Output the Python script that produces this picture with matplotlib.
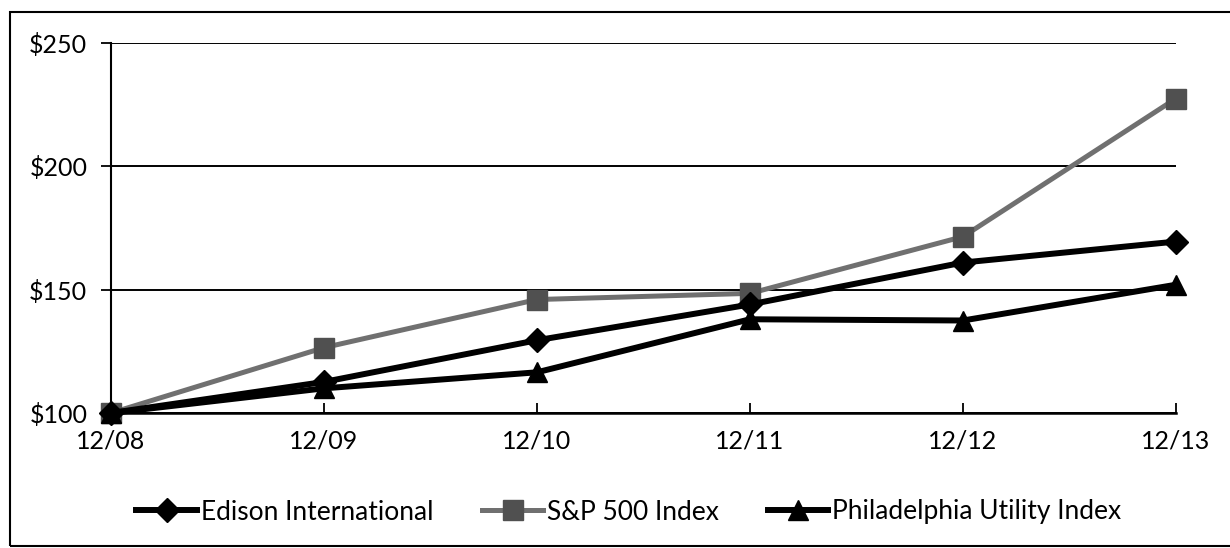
import matplotlib
matplotlib.use("Agg")
import matplotlib.pyplot as plt
from matplotlib.patches import Rectangle

years = ["12/08", "12/09", "12/10", "12/11", "12/12", "12/13"]
edison = [100, 112.6, 129.5, 144.0, 161.0, 169.5]
sp500 = [100, 126.5, 146.0, 148.5, 171.5, 227.5]
phila = [100, 110.0, 116.5, 138.0, 137.5, 152.0]
yticks = [100, 150, 200, 250]
ylabels = ["$100", "$150", "$200", "$250"]

plt.rcParams['font.family'] = ['Lato', 'DejaVu Sans']

fig = plt.figure(figsize=(12.3, 5.48), dpi=100)
ax = fig.add_axes([111/1230, 1-413/548, (1176-111)/1230, (413-43)/548])

x = list(range(len(years)))
ax.plot(x, edison, color="black", lw=4.3, marker="D", ms=12, mfc="black", mec="black",
        clip_on=False, zorder=4, label="Edison International")
ax.plot(x, sp500, color="#707070", lw=3.6, marker="s", ms=14, mfc="#505050", mec="#505050",
        clip_on=False, zorder=3, label="S&P 500 Index")
ax.plot(x, phila, color="black", lw=4.3, marker="^", ms=15, mfc="black", mec="black",
        clip_on=False, zorder=4, label="Philadelphia Utility Index")

ax.set_xlim(0, 5)
ax.set_ylim(100, 250)
ax.set_yticks(yticks)
ax.set_yticklabels(ylabels, fontsize=18)
ax.set_xticks(x)
ax.set_xticklabels(years, fontsize=18)
ax.yaxis.grid(True, color="black", lw=1.4)
ax.set_axisbelow(True)
for s in ["top", "right"]:
    ax.spines[s].set_visible(False)
ax.spines["left"].set_linewidth(1.5)
ax.spines["bottom"].set_linewidth(1.8)
ax.tick_params(axis="y", length=7, width=1.3, pad=10)
ax.tick_params(axis="x", direction="in", length=7, width=1.3, pad=12)

fig.legend(loc="center", bbox_to_anchor=(629/1230, 1-512/548), ncol=3, frameon=False,
           fontsize=19, handlelength=2.3, handletextpad=0.15, columnspacing=1.85,
           markerscale=1.0)

fig.patches.append(Rectangle((10/1230, 1-546/548), 1.1, (546-12)/548, transform=fig.transFigure,
                             fill=False, ec="black", lw=1.5))

fig.savefig("out.png", dpi=100, facecolor="white")
